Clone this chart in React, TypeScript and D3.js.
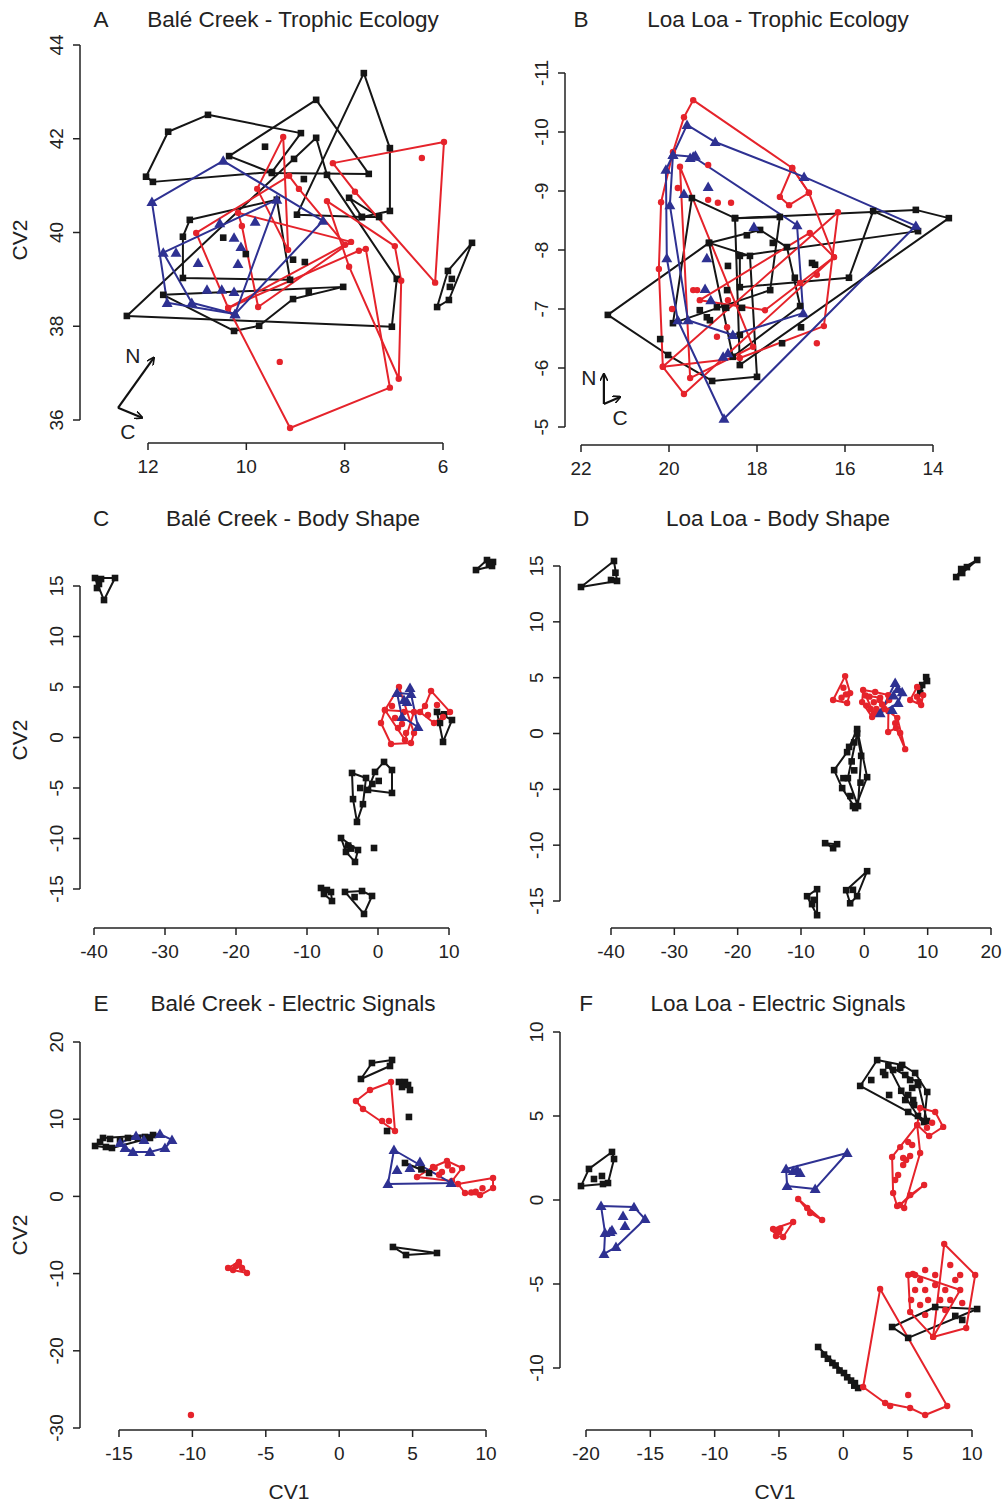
import React from "react";
import * as d3 from "d3";

type Pt = [number, number];

// ---------------- Panel A : Balé Creek - Trophic Ecology ----------------
const A_xTicks = [12, 10, 8, 6];
const A_yTicks = [44, 42, 40, 38, 36];
const A_k_hulls: Pt[][] = [
  [[12.04, 41.19], [11.59, 42.15], [10.78, 42.51], [8.89, 42.12], [9.48, 41.29], [11.9, 41.08]],
  [[10.35, 41.63], [8.58, 42.83], [7.51, 41.25], [9.48, 41.27]],
  [[7.61, 43.4], [7.08, 41.8], [7.08, 40.46], [7.65, 40.33], [8.97, 40.38]],
  [[12.43, 38.22], [8.58, 42.02], [8.36, 41.23], [6.94, 39.01], [7.04, 37.99]],
  [[11.15, 40.27], [9.38, 40.7], [9.11, 38.99], [11.29, 39.03], [11.29, 39.91]],
  [[11.69, 38.67], [8.03, 38.84], [9.05, 38.58], [9.74, 38.01], [10.25, 37.9]],
  [[7.91, 40.74], [7.3, 40.33], [7.65, 40.33]],
  [[5.41, 39.78], [5.9, 39.18], [6.12, 38.41], [5.88, 38.56]],
];
const A_k_pts: Pt[] = [
  [8.83, 41.14], [8.73, 38.73], [9.05, 39.42], [8.81, 39.37], [10.47, 39.89], [10.01, 39.54],
  [9.62, 41.83], [9.03, 41.57], [5.82, 39.01], [5.86, 38.84],
];
const A_r_hulls: Pt[][] = [
  [[8.24, 41.48], [5.98, 41.93], [6.16, 38.93], [7.79, 40.87]],
  [[8.36, 40.67], [6.98, 39.71], [6.85, 38.97], [6.9, 36.88], [7.91, 39.27]],
  [[10.37, 38.39], [9.11, 35.83], [7.08, 36.69], [7.57, 39.65], [7.71, 39.61]],
  [[9.25, 42.04], [9.15, 39.63], [9.78, 40.93]],
  [[11.02, 39.99], [9.13, 41.21], [8.93, 40.93], [7.99, 39.74], [10.37, 38.39]],
  [[10.17, 40.42], [10.09, 40.14], [9.76, 38.41], [7.87, 39.8]],
];
const A_r_pts: Pt[] = [[9.32, 37.24], [6.43, 41.59]];
const A_b_hulls: Pt[][] = [
  [[11.92, 40.65], [10.47, 41.53], [8.44, 40.25], [10.23, 38.26], [11.61, 38.5]],
  [[11.69, 39.57], [9.38, 40.7], [10.23, 38.26], [11.11, 38.5]],
];
const A_b_pts: Pt[] = [
  [11.43, 39.57], [10.98, 39.35], [10.54, 40.2], [10.25, 39.89], [10.11, 39.69], [10.17, 39.33],
  [9.82, 40.23], [10.8, 38.78], [10.5, 38.78], [10.25, 38.73],
];

// ---------------- Panel B : Loa Loa - Trophic Ecology ----------------
const B_xTicks = [22, 20, 18, 16, 14];
const B_yTicks = [-11, -10, -9, -8, -7, -6, -5];
const B_k_hulls: Pt[][] = [
  [[21.39, -6.9], [19.09, -8.12], [18.16, -7.9], [18.0, -5.85], [19.02, -5.78], [20.02, -6.22]],
  [[19.48, -8.88], [18.5, -8.54], [17.48, -8.56], [17.7, -7.32], [19.91, -6.76]],
  [[18.5, -8.54], [14.39, -8.68], [13.64, -8.54], [18.39, -6.05]],
  [[14.34, -8.32], [18.39, -7.9], [18.39, -7.37], [15.91, -7.53], [15.36, -8.66]],
  [[19.09, -8.12], [17.93, -8.34], [17.32, -8.05], [17.02, -7.05], [18.55, -6.19]],
];
const B_k_pts: Pt[] = [
  [20.2, -6.49], [18.66, -7.73], [18.23, -8.25], [17.64, -8.12], [16.75, -7.78], [16.68, -7.75],
  [17.14, -7.53], [17.0, -6.69], [17.43, -6.42], [18.39, -6.56], [18.7, -7.02], [19.07, -6.81],
  [19.3, -6.98], [18.68, -7.32], [19.14, -6.86], [18.91, -7.03], [18.34, -7.02],
];
const B_r_hulls: Pt[][] = [
  [[19.45, -10.54], [17.2, -9.39], [16.82, -8.97], [16.25, -7.88], [19.66, -5.56], [20.14, -6.02],
   [20.23, -7.68], [20.18, -8.81], [19.91, -9.66], [19.66, -10.25]],
  [[19.75, -9.41], [18.09, -6.36], [19.52, -5.83]],
  [[20.14, -6.02], [16.16, -8.64], [16.48, -6.71], [18.39, -6.17]],
  [[17.2, -9.39], [16.82, -8.97], [17.27, -8.76], [17.48, -8.9]],
  [[19.3, -7.15], [16.8, -8.29], [16.25, -7.88], [17.82, -6.98]],
];
const B_r_pts: Pt[] = [
  [19.11, -9.44], [19.11, -8.85], [18.89, -8.8], [18.59, -8.8], [19.45, -7.32], [19.36, -7.32],
  [19.93, -7.0], [18.68, -6.69], [18.91, -6.53], [16.64, -6.42], [16.64, -7.58], [17.02, -7.44],
  [18.66, -7.15], [19.8, -9.05],
];
const B_b_hulls: Pt[][] = [
  [[19.59, -10.12], [18.95, -9.83], [16.93, -9.24], [14.39, -8.41], [18.75, -5.14], [19.8, -6.81],
   [20.05, -7.86], [20.07, -9.36], [19.91, -9.61]],
  [[19.91, -9.61], [19.45, -9.58], [17.09, -8.42], [16.95, -6.93], [18.55, -6.56], [19.57, -6.81], [19.98, -8.76]],
];
const B_b_pts: Pt[] = [
  [19.11, -9.07], [19.14, -7.86], [19.18, -7.34], [19.05, -7.15], [18.07, -8.39], [18.77, -6.19],
  [18.66, -6.25], [19.52, -9.56], [19.4, -9.6], [19.66, -8.95],
];

// ---------------- Panel C : Balé Creek - Body Shape ----------------
const C_xTicks = [-40, -30, -20, -10, 0, 10];
const C_yTicks = [15, 10, 5, 0, -5, -10, -15];
const C_k_hulls: Pt[][] = [
  [[-39.86, 15.79], [-37.04, 15.79], [-38.59, 13.61]],
  [[13.8, 16.58], [15.35, 17.57], [16.2, 17.38], [16.06, 16.98]],
  [[8.31, 2.53], [10.42, 1.73], [9.16, -0.44]],
  [[0.85, -2.42], [1.97, -3.22], [1.97, -5.49], [-1.41, -5.19], [-0.42, -3.41]],
  [[-3.66, -3.51], [-1.69, -4.01], [-2.12, -6.6], [-2.96, -8.36], [-3.52, -6.1]],
  [[-5.21, -9.95], [-2.82, -11.14], [-3.24, -12.32], [-4.51, -11.33]],
  [[-8.03, -14.9], [-6.62, -15.3], [-6.48, -16.19], [-7.61, -15.49]],
  [[-4.65, -15.29], [-2.25, -15.2], [-0.84, -15.69], [-1.97, -17.47]],
];
const C_k_pts: Pt[] = [
  [-39.01, 15.69], [-39.58, 14.8], [-39.3, 15.2], [15.63, 17.08], [8.73, 1.44], [9.3, 2.3],
  [0.1, -4.3], [-0.8, -4.6], [-2.5, -5.0], [-4.2, -10.7], [-3.8, -11.0], [-0.56, -10.94],
  [-3.3, -15.8], [-7.2, -15.1],
];
const C_r_hulls: Pt[][] = [
  [[2.96, 5.0], [5.07, 0.45], [4.65, -0.54], [1.83, -0.64], [0.42, 1.44], [0.98, 2.72]],
  [[0.98, 2.72], [5.07, 2.53], [3.8, -0.25]],
  [[7.47, 4.61], [10.14, 2.53], [9.16, 2.03], [7.89, 1.44], [5.92, 2.53], [6.62, 3.12]],
];
const C_r_pts: Pt[] = [
  [2.4, 1.93], [3.38, 1.34], [3.95, 0.45], [2.82, 0.94], [1.97, 3.12], [3.66, 2.53], [8.31, 3.22], [7.04, 2.23],
];
const C_b_hulls: Pt[][] = [[[2.68, 4.41], [4.65, 4.31], [5.64, 1.04], [3.38, 2.03]]];
const C_b_pts: Pt[] = [[4.09, 3.52], [4.51, 4.9], [3.66, 3.71]];

// ---------------- Panel D : Loa Loa - Body Shape ----------------
const D_xTicks = [-40, -30, -20, -10, 0, 10, 20];
const D_yTicks = [15, 10, 5, 0, -5, -10, -15];
const D_k_hulls: Pt[][] = [
  [[-44.74, 13.12], [-39.53, 15.45], [-39.05, 13.66]],
  [[14.5, 14.01], [15.29, 14.73], [17.82, 15.54], [15.45, 14.37]],
  [[9.76, 5.05], [9.9, 4.7], [9.13, 4.34], [8.82, 3.62]],
  [[-1.14, 0.4], [0.44, -3.91], [-1.45, -6.68], [-3.5, -4.89], [-4.77, -3.28], [-2.72, -1.67]],
  [[-1.14, 0.0], [-0.5, -2.0], [-1.0, -6.5], [-2.6, -4.0]],
  [[-6.19, -9.82], [-4.3, -9.91], [-4.93, -10.27]],
  [[-7.46, -13.94], [-9.04, -14.57], [-7.46, -16.27]],
  [[0.44, -12.33], [-2.87, -14.03], [-2.24, -15.2], [-1.14, -14.57]],
];
const D_k_pts: Pt[] = [
  [-40.0, 13.75], [-39.3, 14.4], [-2.0, -2.5], [-1.6, -3.3], [-0.6, -4.4], [-3.3, -4.0], [-2.2, -5.6],
  [-1.8, -6.5], [-2.4, -1.2], [-1.6, -0.8], [-8.25, -15.28], [-8.0, -14.9], [-1.8, -14.0], [16.2, 14.9],
];
const D_r_hulls: Pt[][] = [
  [[-3.03, 5.14], [-4.93, 3.0], [-2.72, 2.73], [-2.24, 3.62]],
  [[-0.19, 3.89], [1.71, 3.71], [3.76, 3.44], [3.92, 3.0], [2.18, 1.83], [1.23, 1.47], [-0.35, 2.81]],
  [[0.2, 3.4], [2.5, 3.2], [3.2, 2.2], [1.5, 1.8]],
  [[3.8, 2.0], [5.2, 1.4], [6.45, -1.4], [5.0, 0.5], [3.76, 0.13]],
  [[8.34, 4.16], [9.29, 3.44], [8.97, 2.55], [7.24, 3.0]],
];
const D_r_pts: Pt[] = [
  [-3.3, 4.1], [-2.9, 3.5], [-3.6, 3.2], [0.8, 3.3], [1.5, 2.8], [2.4, 3.0], [0.3, 2.5], [1.0, 2.2],
  [2.8, 2.6], [1.9, 2.2], [5.66, 0.04], [4.87, 0.93], [8.3, 3.3], [8.7, 2.9],
];
const D_b_hulls: Pt[][] = [[[4.87, 4.52], [5.97, 3.71], [5.34, 2.73], [2.5, 1.83]]];
const D_b_pts: Pt[] = [[4.39, 2.1], [4.6, 3.4], [5.3, 4.0]];

// ---------------- Panel E : Balé Creek - Electric Signals ----------------
const E_xTicks = [-15, -10, -5, 0, 5, 10];
const E_yTicks = [20, 10, 0, -10, -20, -30];
const E_k_hulls: Pt[][] = [
  [[-16.63, 6.53], [-16.09, 7.57], [-12.68, 7.95], [-12.89, 7.57], [-15.48, 6.27]],
  [[1.48, 15.21], [2.23, 17.28], [3.6, 17.67], [3.46, 16.89]],
  [[4.48, 4.33], [6.12, 3.03], [5.6, 3.5]],
  [[3.66, -6.55], [4.55, -7.59], [6.66, -7.33]],
];
const E_k_pts: Pt[] = [
  [-15.61, 7.44], [-14.93, 7.18], [-14.39, 7.57], [-13.71, 7.57], [-15.89, 6.4], [-16.29, 7.05],
  [-13.23, 7.7], [4.07, 14.82], [4.48, 14.82], [4.69, 14.43], [4.28, 14.17], [4.82, 13.78],
  [4.75, 10.29], [3.26, 8.47],
];
const E_r_hulls: Pt[][] = [
  [[-7.57, -9.27], [-6.83, -8.5], [-6.28, -9.92], [-7.23, -9.53]],
  [[3.53, 14.82], [2.1, 13.78], [1.14, 12.36], [1.62, 11.32], [3.8, 8.47]],
  [[5.3, 2.51], [6.39, 3.81], [7.34, 4.59], [8.37, 3.68], [7.68, 1.99]],
  [[8.09, 1.61], [10.48, 2.38], [10.48, 1.09], [9.59, 0.18], [8.57, 0.44]],
];
const E_r_pts: Pt[] = [
  [-10.1, -28.31], [-7.03, -9.01], [-6.62, -9.27], [-6.9, -8.8], [2.92, 9.77], [3.39, 9.77],
  [7.0, 3.16], [7.7, 3.4], [6.8, 2.8], [6.5, 3.7], [7.4, 4.0], [9.76, 1.06], [9.0, 0.5], [9.3, 0.6],
];
const E_b_hulls: Pt[][] = [
  [[-14.93, 6.92], [-13.84, 7.82], [-12.21, 8.08], [-11.39, 7.31], [-11.87, 6.27], [-12.89, 5.75],
   [-14.05, 5.75], [-14.59, 6.27]],
  [[3.73, 6.01], [7.62, 1.74], [3.32, 1.61]],
];
const E_b_pts: Pt[] = [[3.94, 3.42], [4.82, 3.68], [5.5, 4.46], [-13.3, 7.3]];

// ---------------- Panel F : Loa Loa - Electric Signals ----------------
const F_xTicks = [-20, -15, -10, -5, 0, 5, 10];
const F_yTicks = [10, 5, 0, -5, -10];
const F_k_hulls: Pt[][] = [
  [[-17.98, 2.86], [-17.82, 2.44], [-18.29, 1.01], [-18.68, 0.95], [-20.39, 0.83], [-19.77, 1.85]],
  [[2.63, 8.33], [4.57, 8.04], [5.58, 7.56], [6.52, 6.43], [6.28, 4.64], [5.04, 5.24], [1.31, 6.79]],
  [[3.5, 8.0], [5.8, 7.0], [6.5, 4.7], [5.8, 5.0], [4.5, 6.5]],
  [[3.79, -7.56], [7.14, -6.37], [10.4, -6.49], [5.04, -8.21]],
  [[-1.96, -8.75], [1.15, -11.19], [0.9, -10.9]],
];
const F_k_pts: Pt[] = [
  [-19.38, 1.25], [-18.76, 1.43], [3.56, 6.25], [3.25, 7.44], [3.87, 7.74], [4.42, 7.86], [4.81, 7.44],
  [5.19, 7.14], [5.35, 6.67], [5.04, 6.25], [4.81, 5.95], [5.43, 5.95], [5.82, 6.85], [2.17, 7.14],
  [3.09, 7.62], [5.5, 5.65], [8.7, -6.9], [9.24, -7.14], [-1.5, -9.2], [-1.2, -9.45], [-0.85, -9.7],
  [-0.6, -9.85], [-0.3, -10.15], [0.05, -10.3], [0.3, -10.55], [0.6, -10.75], [0.85, -11.05],
];
const F_r_hulls: Pt[][] = [
  [[-3.51, 0.06], [-1.65, -1.19], [-2.58, -0.77]],
  [[-3.9, -1.31], [-5.46, -1.73], [-5.23, -2.14], [-4.68, -2.2]],
  [[5.97, 5.48], [7.14, 5.24], [7.76, 4.35], [6.67, 3.81], [5.74, 4.46]],
  [[5.74, 4.46], [5.97, 2.8], [4.73, -0.48], [4.18, -0.36], [3.87, 0.42], [3.79, 2.56]],
  [[6.28, 0.89], [4.4, -0.3], [5.2, 0.3]],
  [[7.84, -2.62], [10.25, -4.46], [9.55, -7.62], [6.98, -8.15]],
  [[5.04, -4.46], [5.4, -4.4], [9.08, -5.36], [6.98, -8.15], [5.19, -6.67]],
  [[2.86, -5.3], [8.07, -12.26], [6.36, -12.8], [5.19, -12.38], [3.25, -12.08], [1.54, -11.13]],
];
const F_r_pts: Pt[] = [
  [6.5, 4.3], [6.9, 4.6], [5.04, 3.45], [5.35, 3.27], [4.65, 2.5], [4.88, 2.38], [4.42, 3.15], [4.26, 1.49],
  [4.03, 1.19], [4.65, 2.08], [5.19, 2.62], [-2.81, -0.48], [-5.0, -1.9], [-4.9, -1.7], [-5.3, -1.8],
  [5.58, -4.46], [5.97, -4.76], [5.58, -5.36], [6.36, -5.36], [7.14, -5.06], [7.92, -5.36], [8.31, -5.95],
  [7.53, -5.95], [6.59, -5.95], [5.27, -5.95], [5.97, -6.25], [8.7, -4.76], [8.31, -3.87], [6.36, -6.84],
  [7.92, -6.55], [9.24, -6.13], [7.14, -4.46], [9.08, -4.46], [6.36, -4.17], [5.04, -11.61], [3.64, -12.26],
];
const F_b_hulls: Pt[][] = [
  [[-18.83, -0.36], [-16.27, -0.42], [-15.41, -1.13], [-17.67, -2.8], [-18.6, -3.21], [-18.52, -1.96]],
  [[-4.45, 1.85], [0.3, 2.8], [-2.19, 0.66], [-4.37, 0.83]],
];
const F_b_pts: Pt[] = [
  [-17.12, -0.95], [-16.97, -1.55], [-17.98, -1.79], [-18.13, -1.9], [-3.9, 1.73], [-3.59, 1.79], [-3.36, 1.61],
];

// ---------------- styling / layout ----------------
const COL = { k: "#151515", r: "#e5232b", b: "#2e3192" };
const FONT = "'Liberation Sans', Arial, Helvetica, sans-serif";

type Grp = { hulls: Pt[][]; pts: Pt[] };
interface Cfg {
  letter: string;
  title: string;
  letterX: number;
  titleX: number;
  titleY: number;
  xDom: [number, number];
  xRng: [number, number];
  yDom: [number, number];
  yRng: [number, number];
  xTicks: number[];
  yTicks: number[];
  axisY: number;
  axisX: number;
  k: Grp;
  r: Grp;
  b: Grp;
  compass?: { o: Pt; n: Pt; c: Pt; nl: Pt; cl: Pt };
}

const panels: Cfg[] = [
  {
    letter: "A", title: "Balé Creek - Trophic Ecology", letterX: 101, titleX: 293, titleY: 27,
    xDom: [12, 6], xRng: [148, 443], yDom: [44, 36], yRng: [45, 420],
    xTicks: A_xTicks, yTicks: A_yTicks, axisY: 443, axisX: 80,
    k: { hulls: A_k_hulls, pts: A_k_pts }, r: { hulls: A_r_hulls, pts: A_r_pts }, b: { hulls: A_b_hulls, pts: A_b_pts },
    compass: { o: [12.61, 36.26], n: [11.88, 37.33], c: [12.12, 36.05], nl: [12.31, 37.37], cl: [12.41, 35.75] },
  },
  {
    letter: "B", title: "Loa Loa - Trophic Ecology", letterX: 581, titleX: 778, titleY: 27,
    xDom: [22, 14], xRng: [581, 933], yDom: [-11, -5], yRng: [73, 427],
    xTicks: B_xTicks, yTicks: B_yTicks, axisY: 445, axisX: 565,
    k: { hulls: B_k_hulls, pts: B_k_pts }, r: { hulls: B_r_hulls, pts: B_r_pts }, b: { hulls: B_b_hulls, pts: B_b_pts },
    compass: { o: [21.48, -5.39], n: [21.48, -5.9], c: [21.11, -5.51], nl: [21.82, -5.83], cl: [21.11, -5.15] },
  },
  {
    letter: "C", title: "Balé Creek - Body Shape", letterX: 101, titleX: 293, titleY: 526,
    xDom: [-40, 10], xRng: [94, 449], yDom: [15, -15], yRng: [586, 889],
    xTicks: C_xTicks, yTicks: C_yTicks, axisY: 928, axisX: 80,
    k: { hulls: C_k_hulls, pts: C_k_pts }, r: { hulls: C_r_hulls, pts: C_r_pts }, b: { hulls: C_b_hulls, pts: C_b_pts },
  },
  {
    letter: "D", title: "Loa Loa - Body Shape", letterX: 581, titleX: 778, titleY: 526,
    xDom: [-40, 20], xRng: [611, 991], yDom: [15, -15], yRng: [566, 901],
    xTicks: D_xTicks, yTicks: D_yTicks, axisY: 928, axisX: 560,
    k: { hulls: D_k_hulls, pts: D_k_pts }, r: { hulls: D_r_hulls, pts: D_r_pts }, b: { hulls: D_b_hulls, pts: D_b_pts },
  },
  {
    letter: "E", title: "Balé Creek - Electric Signals", letterX: 101, titleX: 293, titleY: 1011,
    xDom: [-15, 10], xRng: [119, 486], yDom: [20, -30], yRng: [1042, 1428],
    xTicks: E_xTicks, yTicks: E_yTicks, axisY: 1430, axisX: 80,
    k: { hulls: E_k_hulls, pts: E_k_pts }, r: { hulls: E_r_hulls, pts: E_r_pts }, b: { hulls: E_b_hulls, pts: E_b_pts },
  },
  {
    letter: "F", title: "Loa Loa - Electric Signals", letterX: 586, titleX: 778, titleY: 1011,
    xDom: [-20, 10], xRng: [586, 972], yDom: [10, -10], yRng: [1032, 1368],
    xTicks: F_xTicks, yTicks: F_yTicks, axisY: 1430, axisX: 560,
    k: { hulls: F_k_hulls, pts: F_k_pts }, r: { hulls: F_r_hulls, pts: F_r_pts }, b: { hulls: F_b_hulls, pts: F_b_pts },
  },
];

const triPath = d3.symbol().type(d3.symbolTriangle).size(52)() || "";

function Marker({ kind, x, y }: { kind: "k" | "r" | "b"; x: number; y: number }) {
  if (kind === "k") return <rect x={x - 3.3} y={y - 3.3} width={6.6} height={6.6} fill={COL.k} />;
  if (kind === "r") return <circle cx={x} cy={y} r={3.2} fill={COL.r} />;
  return <path d={triPath} transform={`translate(${x},${y + 0.9})`} fill={COL.b} />;
}

function Panel({ cfg, idx }: { cfg: Cfg; idx: number }) {
  const xs = d3.scaleLinear().domain(cfg.xDom).range(cfg.xRng);
  const ys = d3.scaleLinear().domain(cfg.yDom).range(cfg.yRng);
  const line = d3.line<Pt>().x((d) => xs(d[0])).y((d) => ys(d[1]));
  const groups: ["k" | "r" | "b", Grp][] = [["k", cfg.k], ["r", cfg.r], ["b", cfg.b]];
  const xt0 = xs(cfg.xTicks[0]);
  const xt1 = xs(cfg.xTicks[cfg.xTicks.length - 1]);
  const yt0 = ys(cfg.yTicks[0]);
  const yt1 = ys(cfg.yTicks[cfg.yTicks.length - 1]);
  const cp = cfg.compass;
  return (
    <g>
      <text x={cfg.letterX} y={cfg.titleY} fontSize={22.5} textAnchor="middle" fontFamily={FONT} fill="#222">{cfg.letter}</text>
      <text x={cfg.titleX} y={cfg.titleY} fontSize={22.5} textAnchor="middle" fontFamily={FONT} fill="#222">{cfg.title}</text>
      <line x1={xt0} x2={xt1} y1={cfg.axisY} y2={cfg.axisY} stroke="#222" strokeWidth={1.5} />
      {cfg.xTicks.map((t) => (
        <g key={"xt" + t}>
          <line x1={xs(t)} x2={xs(t)} y1={cfg.axisY} y2={cfg.axisY + 7} stroke="#222" strokeWidth={1.5} />
          <text x={xs(t)} y={cfg.axisY + 30} fontSize={19} textAnchor="middle" fontFamily={FONT} fill="#222">{t}</text>
        </g>
      ))}
      <line x1={cfg.axisX} x2={cfg.axisX} y1={yt0} y2={yt1} stroke="#222" strokeWidth={1.5} />
      {cfg.yTicks.map((t) => (
        <g key={"yt" + t}>
          <line x1={cfg.axisX - 7} x2={cfg.axisX} y1={ys(t)} y2={ys(t)} stroke="#222" strokeWidth={1.5} />
          <text transform={`translate(${cfg.axisX - 17},${ys(t)}) rotate(-90)`} fontSize={19} textAnchor="middle" fontFamily={FONT} fill="#222">{t}</text>
        </g>
      ))}
      {groups.map(([kind, g]) =>
        g.hulls.map((h, i) => (
          <path key={kind + "h" + i} d={(line(h) || "") + "Z"} fill="none" stroke={COL[kind]} strokeWidth={2} strokeLinejoin="round" />
        ))
      )}
      {groups.map(([kind, g]) => {
        const all: Pt[] = [...g.hulls.flat(), ...g.pts];
        return all.map((p, i) => <Marker key={kind + "p" + i} kind={kind} x={xs(p[0])} y={ys(p[1])} />);
      })}
      {cp && (
        <g>
          <line x1={xs(cp.o[0])} y1={ys(cp.o[1])} x2={xs(cp.n[0])} y2={ys(cp.n[1])} stroke="#111" strokeWidth={2.2} markerEnd={`url(#arr${idx})`} />
          <line x1={xs(cp.o[0])} y1={ys(cp.o[1])} x2={xs(cp.c[0])} y2={ys(cp.c[1])} stroke="#111" strokeWidth={2.2} markerEnd={`url(#arr${idx})`} />
          <text x={xs(cp.nl[0])} y={ys(cp.nl[1]) + 7} fontSize={21} textAnchor="middle" fontFamily={FONT} fill="#222">N</text>
          <text x={xs(cp.cl[0])} y={ys(cp.cl[1]) + 7} fontSize={21} textAnchor="middle" fontFamily={FONT} fill="#222">C</text>
        </g>
      )}
    </g>
  );
}

export default function App() {
  return (
    <svg
      width={1005}
      height={1506}
      viewBox="0 0 1005 1506"
      style={{ position: "absolute", left: 0, top: 0, display: "block", background: "#fff" }}
    >
      <defs>
        {panels.map((_, i) => (
          <marker key={i} id={`arr${i}`} viewBox="0 0 10 10" refX={9} refY={5} markerWidth={8} markerHeight={8} orient="auto-start-reverse" markerUnits="userSpaceOnUse">
            <path d="M0,0 L10,5 L0,10" fill="none" stroke="#111" strokeWidth={2} />
          </marker>
        ))}
      </defs>
      <rect x={0} y={0} width={1005} height={1506} fill="#fff" />
      {panels.map((p, i) => (
        <Panel key={p.letter} cfg={p} idx={i} />
      ))}
      <text transform="translate(27,240) rotate(-90)" fontSize={21} textAnchor="middle" fontFamily={FONT} fill="#222">CV2</text>
      <text transform="translate(27,740) rotate(-90)" fontSize={21} textAnchor="middle" fontFamily={FONT} fill="#222">CV2</text>
      <text transform="translate(27,1235) rotate(-90)" fontSize={21} textAnchor="middle" fontFamily={FONT} fill="#222">CV2</text>
      <text x={289} y={1499} fontSize={21} textAnchor="middle" fontFamily={FONT} fill="#222">CV1</text>
      <text x={775} y={1499} fontSize={21} textAnchor="middle" fontFamily={FONT} fill="#222">CV1</text>
    </svg>
  );
}
